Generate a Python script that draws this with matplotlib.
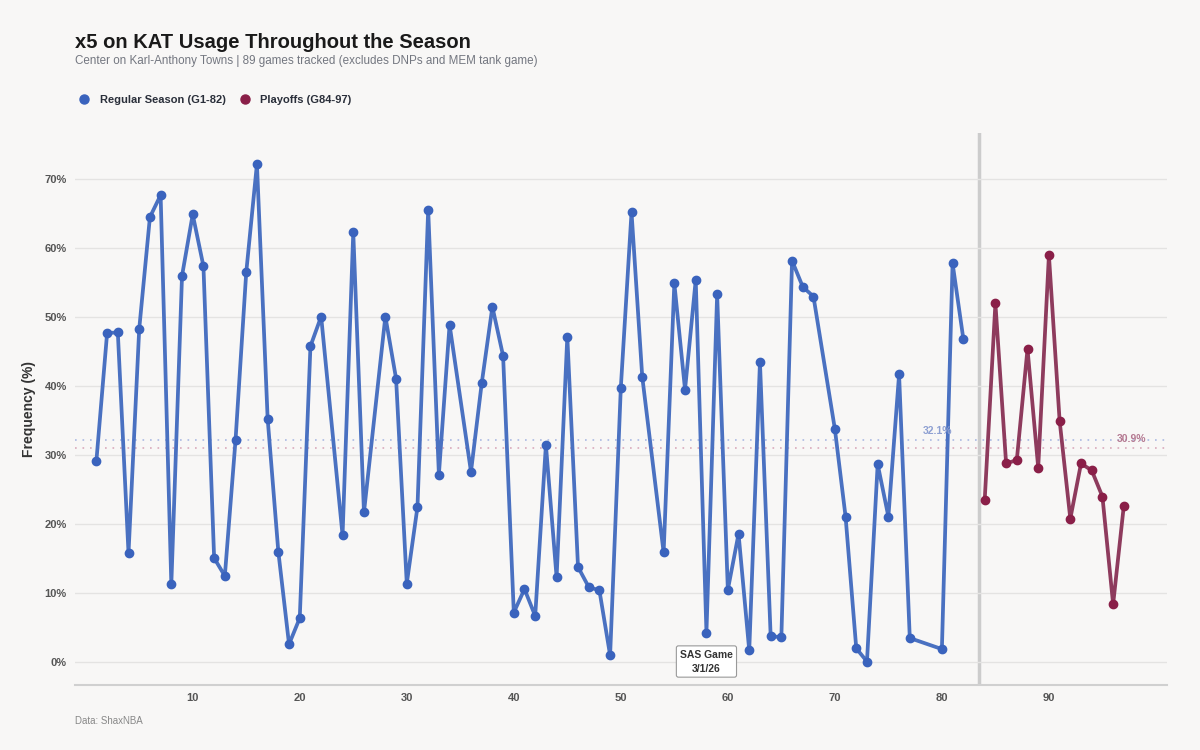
import numpy as np
import matplotlib
matplotlib.use("Agg")
import matplotlib.pyplot as plt
from matplotlib.lines import Line2D
from matplotlib.ticker import FixedLocator, FuncFormatter

plt.rcParams['font.family'] = ['Liberation Sans', 'DejaVu Sans']

# ---- data ----
reg_games = [1, 2, 3, 4, 5, 6, 7, 8, 9, 10, 11, 12, 13, 14, 15, 16, 17, 18, 19, 20, 21, 22,
             24, 25, 26, 28, 29, 30, 31, 32, 33, 34,
             36, 37, 38, 39, 40, 41, 42, 43, 44, 45, 46, 47, 48, 49, 50, 51, 52,
             54, 55, 56, 57, 58, 59, 60, 61, 62, 63, 64, 65, 66, 67, 68,
             70, 71, 72, 73, 74, 75, 76, 77, 80, 81, 82]
reg_vals = [29.1, 47.6, 47.7, 15.7, 48.2, 64.4, 67.6, 11.2, 55.9, 64.8, 57.3, 15.0, 12.4, 32.1,
            56.4, 72.1, 35.2, 15.9, 2.5, 6.3, 45.7, 50.0,
            18.3, 62.2, 21.6, 50.0, 41.0, 11.3, 22.4, 65.5, 27.1, 48.8,
            27.5, 40.3, 51.4, 44.3, 7.1, 10.5, 6.6, 31.4, 12.2, 47.1, 13.7, 10.8, 10.3, 0.9,
            39.7, 65.1, 41.3,
            15.8, 54.8, 39.4, 55.3, 4.2, 53.2, 10.4, 18.5, 1.6, 43.4, 3.7, 3.5, 58.1, 54.3, 52.9,
            33.7, 21.0, 1.9, 0.0, 28.6, 21.0, 41.6, 3.4, 1.8, 57.7, 46.8]
po_games = [84, 85, 86, 87, 88, 89, 90, 91, 92, 93, 94, 95, 96, 97]
po_vals = [23.4, 51.9, 28.7, 29.2, 45.3, 28.1, 58.9, 34.9, 20.7, 28.7, 27.7, 23.9, 8.3, 22.6]
x_ticks = [10, 20, 30, 40, 50, 60, 70, 80, 90]
y_ticks = [0, 10, 20, 30, 40, 50, 60, 70]
divider_x = 83.5
annot_game = 58
annot_text = "SAS Game\n3/1/26"

reg_label = "Regular Season (G1-82)"
po_label = "Playoffs (G84-97)"

BG = "#f8f7f6"
BLUE_LINE = "#4a71c1"
BLUE_MK = "#3a63bd"
RED_LINE = "#8e3b5d"
RED_MK = "#8a1f48"

fig = plt.figure(figsize=(12, 7.5), dpi=100, facecolor=BG)
ax = fig.add_axes([0.0625, 0.0867, 0.9097, 0.736])
ax.set_facecolor(BG)

ax.set_xlim(-1, 101)
ax.set_ylim(-3.4, 76.6)

# gridlines
ax.yaxis.set_major_locator(FixedLocator(y_ticks))
ax.xaxis.set_major_locator(FixedLocator(x_ticks))
ax.yaxis.set_major_formatter(FuncFormatter(lambda v, p: f"{int(v)}%"))
ax.grid(axis='y', color='#e4e3e2', linewidth=1.0, zorder=0)
ax.grid(axis='x', visible=False)
for s in ['top', 'right', 'left']:
    ax.spines[s].set_visible(False)
ax.spines['bottom'].set_color('#d0d0d0')
ax.spines['bottom'].set_linewidth(1.5)
ax.tick_params(axis='both', length=0, labelsize=8, labelcolor='#555555', pad=6)
for lab in ax.get_xticklabels() + ax.get_yticklabels():
    lab.set_fontweight('bold')

# averages
reg_avg = float(np.mean(reg_vals))
po_avg = float(np.mean(po_vals))
ax.axhline(reg_avg, color='#aab9e2', linestyle=(0, (1, 3.5)), linewidth=1.2, zorder=1)
ax.axhline(po_avg, color='#d9a9bb', linestyle=(0, (1, 3.5)), linewidth=1.2, zorder=1)

# divider
ax.axvline(divider_x, color='#cccccc', linewidth=2.5, zorder=1)

# series
ax.plot(reg_games, reg_vals, color=BLUE_LINE, linewidth=2.7, zorder=3,
        marker='o', markersize=6, markerfacecolor=BLUE_MK, markeredgecolor=BLUE_MK)
ax.plot(po_games, po_vals, color=RED_LINE, linewidth=2.7, zorder=3,
        marker='o', markersize=6, markerfacecolor=RED_MK, markeredgecolor=RED_MK)

# average labels
ax.annotate(f"{reg_avg:.1f}%", xy=(79.6, reg_avg), xytext=(0, 3), textcoords='offset points',
            ha='center', va='bottom', fontsize=7.5, fontweight='bold', color='#8ea0d2', zorder=4)
ax.annotate(f"{po_avg:.1f}%", xy=(97.7, po_avg), xytext=(0, 3), textcoords='offset points',
            ha='center', va='bottom', fontsize=7.5, fontweight='bold', color='#b57a92', zorder=4)

# annotation box
ax.text(annot_game, 0, annot_text, ha='center', va='center', fontsize=7.5, fontweight='bold',
        color='#333333', linespacing=1.5, zorder=5,
        bbox=dict(boxstyle='round,pad=0.35,rounding_size=0.2', facecolor='white',
                  edgecolor='#999999', linewidth=0.8))

ax.set_ylabel("Frequency (%)", fontsize=10, fontweight='bold', color='#333333')
ax.yaxis.set_label_coords(-0.036, 0.5)

# titles
fig.text(0.0625, 0.944, "x5 on KAT Usage Throughout the Season", fontsize=14.5,
         fontweight='bold', color='#1a1a1a', ha='left', va='center')
fig.text(0.0625, 0.919,
         "Center on Karl-Anthony Towns | 89 games tracked (excludes DNPs and MEM tank game)",
         fontsize=8.4, color='#737780', ha='left', va='center')

handles = [Line2D([], [], linestyle='none', marker='o', markersize=6.5,
                  markerfacecolor=BLUE_MK, markeredgecolor=BLUE_MK),
           Line2D([], [], linestyle='none', marker='o', markersize=6.5,
                  markerfacecolor=RED_MK, markeredgecolor=RED_MK)]
leg = fig.legend(handles, [reg_label, po_label], loc='center left',
                 bbox_to_anchor=(0.0665, 0.867), ncol=2, frameon=False,
                 handlelength=0.8, handletextpad=1.0, columnspacing=1.3,
                 borderaxespad=0, borderpad=0,
                 prop={'size': 8, 'weight': 'bold'})
for t in leg.get_texts():
    t.set_color('#2a2f3a')

fig.text(0.0625, 0.038, "Data: ShaxNBA", fontsize=7, color='#888888', ha='left', va='center')

fig.savefig("out.png", dpi=100, facecolor=BG)
